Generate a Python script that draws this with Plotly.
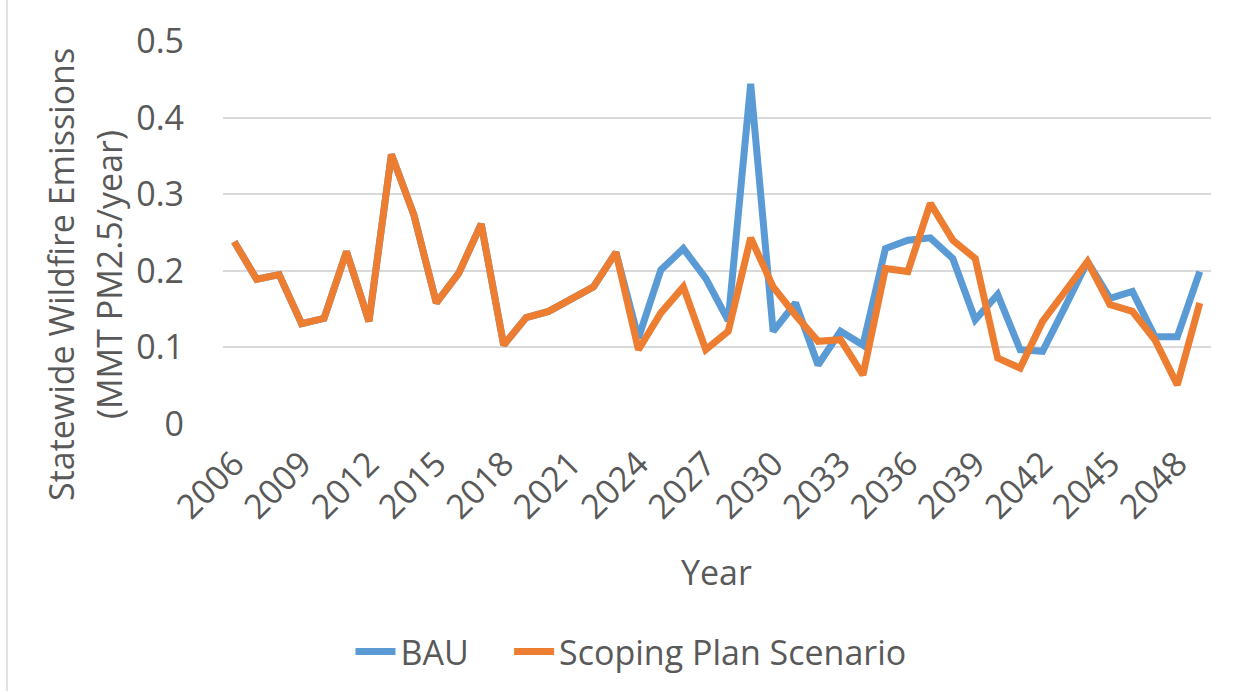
import plotly.graph_objects as go

years = list(range(2006, 2050))
tick_years = [2006, 2009, 2012, 2015, 2018, 2021, 2024, 2027, 2030, 2033, 2036, 2039, 2042, 2045, 2048]
y_ticks = [0, 0.1, 0.2, 0.3, 0.4, 0.5]
y_ticktext = ["0", "0.1", "0.2", "0.3", "0.4", "0.5"]
series_names = ["BAU", "Scoping Plan Scenario"]

bau = [0.238, 0.189, 0.195, 0.131, 0.138, 0.225, 0.134, 0.352, 0.273, 0.158,
       0.197, 0.261, 0.103, 0.139, 0.147, 0.164, 0.179, 0.224,
       0.112, 0.201, 0.229, 0.190, 0.135, 0.444, 0.121, 0.158, 0.077, 0.121,
       0.103, 0.229, 0.240, 0.243, 0.216, 0.136, 0.169, 0.097, 0.095, 0.153,
       0.212, 0.164, 0.173, 0.114, 0.114, 0.199]

scoping = [0.238, 0.189, 0.195, 0.131, 0.138, 0.225, 0.134, 0.352, 0.273, 0.158,
           0.197, 0.261, 0.103, 0.139, 0.147, 0.164, 0.179, 0.224,
           0.097, 0.145, 0.179, 0.097, 0.121, 0.243, 0.179, 0.142, 0.108, 0.110,
           0.064, 0.203, 0.199, 0.288, 0.240, 0.216, 0.086, 0.073, 0.134, 0.173,
           0.212, 0.156, 0.147, 0.110, 0.051, 0.158]

FONT = "Open Sans"
GRAY = "#595959"
FS = 34
W, H = 1250, 692
ML, MR, MT, MB = 223, 39, 41, 268
PW, PH = W - ML - MR, H - MT - MB


def px(xp):
    return (xp - ML) / PW


def py(yp):
    return (H - MB - yp) / PH


fig = go.Figure()
fig.add_trace(go.Scatter(x=years, y=bau, mode="lines", name=series_names[0] + "\u00a0" * 4,
                         line=dict(color="#5B9BD5", width=7)))
fig.add_trace(go.Scatter(x=years, y=scoping, mode="lines", name=series_names[1],
                         line=dict(color="#ED7D31", width=7)))

fig.update_layout(
    width=W, height=H,
    margin=dict(l=ML, r=MR, t=MT, b=MB, autoexpand=False),
    paper_bgcolor="white", plot_bgcolor="white",
    font=dict(family=FONT, color=GRAY, size=FS),
    showlegend=True,
    legend=dict(orientation="h", x=px(631), y=py(652), xanchor="center", yanchor="middle",
                font=dict(size=FS, color=GRAY), itemwidth=40, tracegroupgap=0),
    xaxis=dict(range=[2005.5, 2049.5], tickmode="array", tickvals=tick_years,
               ticktext=[str(t) for t in tick_years], tickangle=-45,
               showgrid=False, zeroline=False, showline=False,
               tickfont=dict(size=FS, color=GRAY), ticklabelstandoff=12),
    yaxis=dict(range=[0, 0.5], tickmode="array", tickvals=y_ticks, ticktext=y_ticktext,
               showgrid=True, gridcolor="#d9d9d9", gridwidth=1.5,
               zeroline=False, showline=False,
               tickfont=dict(size=FS, color=GRAY), ticklabelstandoff=38),
)

fig.add_annotation(text="Statewide Wildfire Emissions", textangle=-90,
                   xref="paper", yref="paper", x=px(61), y=py(275),
                   xanchor="center", yanchor="middle", showarrow=False,
                   font=dict(size=FS, color=GRAY))
fig.add_annotation(text="(MMT PM2.5/year)", textangle=-90,
                   xref="paper", yref="paper", x=px(109), y=py(275),
                   xanchor="center", yanchor="middle", showarrow=False,
                   font=dict(size=FS, color=GRAY))
fig.add_annotation(text="Year", xref="paper", yref="paper", x=px(716), y=py(572),
                   xanchor="center", yanchor="middle", showarrow=False,
                   font=dict(size=FS, color=GRAY))

fig.add_shape(type="line", xref="paper", yref="paper",
              x0=px(7), x1=px(7), y0=py(0), y1=py(691),
              line=dict(color="#d9d9d9", width=1.5))

fig.write_html("out.html", config={"displayModeBar": False},
               post_script="document.body.style.margin='0';document.body.style.overflow='hidden';")
